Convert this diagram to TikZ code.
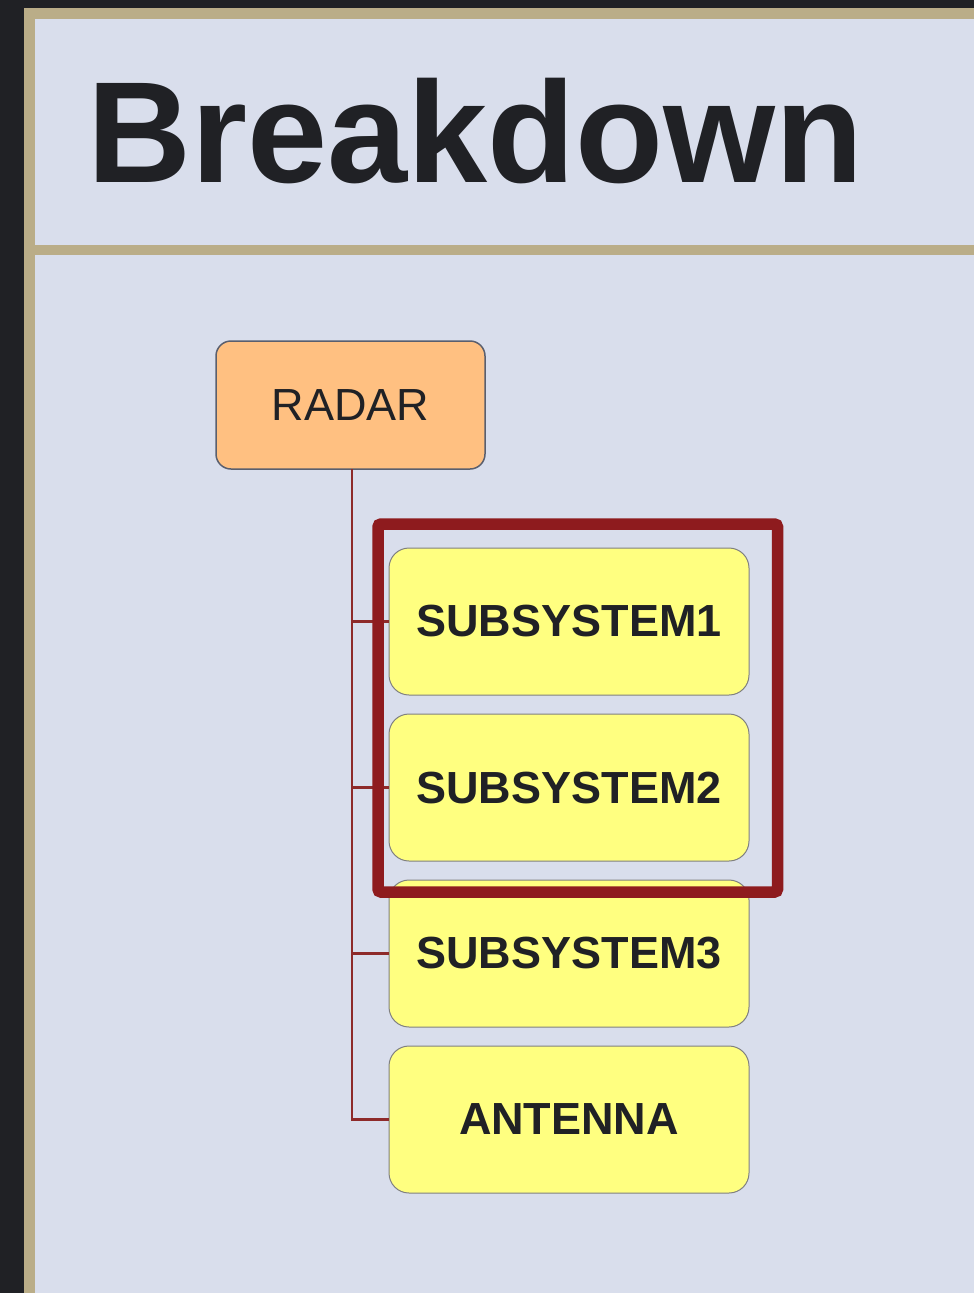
\documentclass[tikz,border=0pt]{standalone}
\usepackage{fontspec}
\setsansfont{Liberation Sans}
\usetikzlibrary{positioning}

\definecolor{pagedark}{HTML}{202125}
\definecolor{frametan}{HTML}{BAAD88}
\definecolor{panelblue}{HTML}{D9DEEC}
\definecolor{rootorange}{HTML}{FFC081}
\definecolor{rootedge}{HTML}{5A5F6E}
\definecolor{partyellow}{HTML}{FFFF80}
\definecolor{partedge}{HTML}{808080}
\definecolor{treered}{HTML}{8E2A2A}
\definecolor{markred}{HTML}{8E1B1E}

\tikzset{
	rootbox/.style={draw=rootedge, line width=1.5pt, fill=rootorange, rounded corners=15pt,
		minimum width=269pt, minimum height=128pt, outer sep=0pt, text=pagedark,
		font=\sffamily\fontsize{45}{54}\selectfont},
	partbox/.style={draw=partedge, line width=1pt, fill=partyellow, rounded corners=20pt,
		minimum width=360pt, minimum height=147pt, outer sep=0pt, text=pagedark,
		font=\sffamily\bfseries\fontsize{45}{54}\selectfont},
	treeline/.style={draw=treered, line width=2.5pt},
}

\begin{document}
\begin{tikzpicture}[x=1pt, y=-1pt]
	\useasboundingbox (0,0) rectangle (974,1293);
	
	\fill[pagedark] (0,0) rectangle (974,1293);
	\fill[frametan] (24,8) rectangle (974,1293);
	\fill[panelblue] (35,19) rectangle (974,245);
	\fill[panelblue] (35,255) rectangle (974,1293);
	
	\node[anchor=base west, inner sep=0pt, text=pagedark] (title) at (87,182)
		{\sffamily\bfseries\fontsize{144}{160}\selectfont Breakdown};
	
	\node[rootbox] (radar) at (350.5,405) {RADAR};
	
	\node[partbox] (sub1) at (569,621.5) {SUBSYSTEM1};
	\node[partbox, below=19pt of sub1] (sub2) {SUBSYSTEM2};
	\node[partbox, below=19pt of sub2] (sub3) {SUBSYSTEM3};
	\node[partbox, below=19pt of sub3] (antenna) {ANTENNA};
	
	\coordinate (trunk) at ([xshift=1.5pt]radar.south);
	\draw[treeline] (trunk) |- (antenna.west);
	\foreach \part in {sub1,sub2,sub3}
		\draw[treeline] (trunk |- \part.west) -- (\part.west);
	
	\draw[markred, line width=11.5pt, rounded corners=3pt]
		([xshift=-11pt, yshift=24pt]sub1.north west) rectangle ([xshift=28.5pt, yshift=-31pt]sub2.south east);
	
\end{tikzpicture}
\end{document}
